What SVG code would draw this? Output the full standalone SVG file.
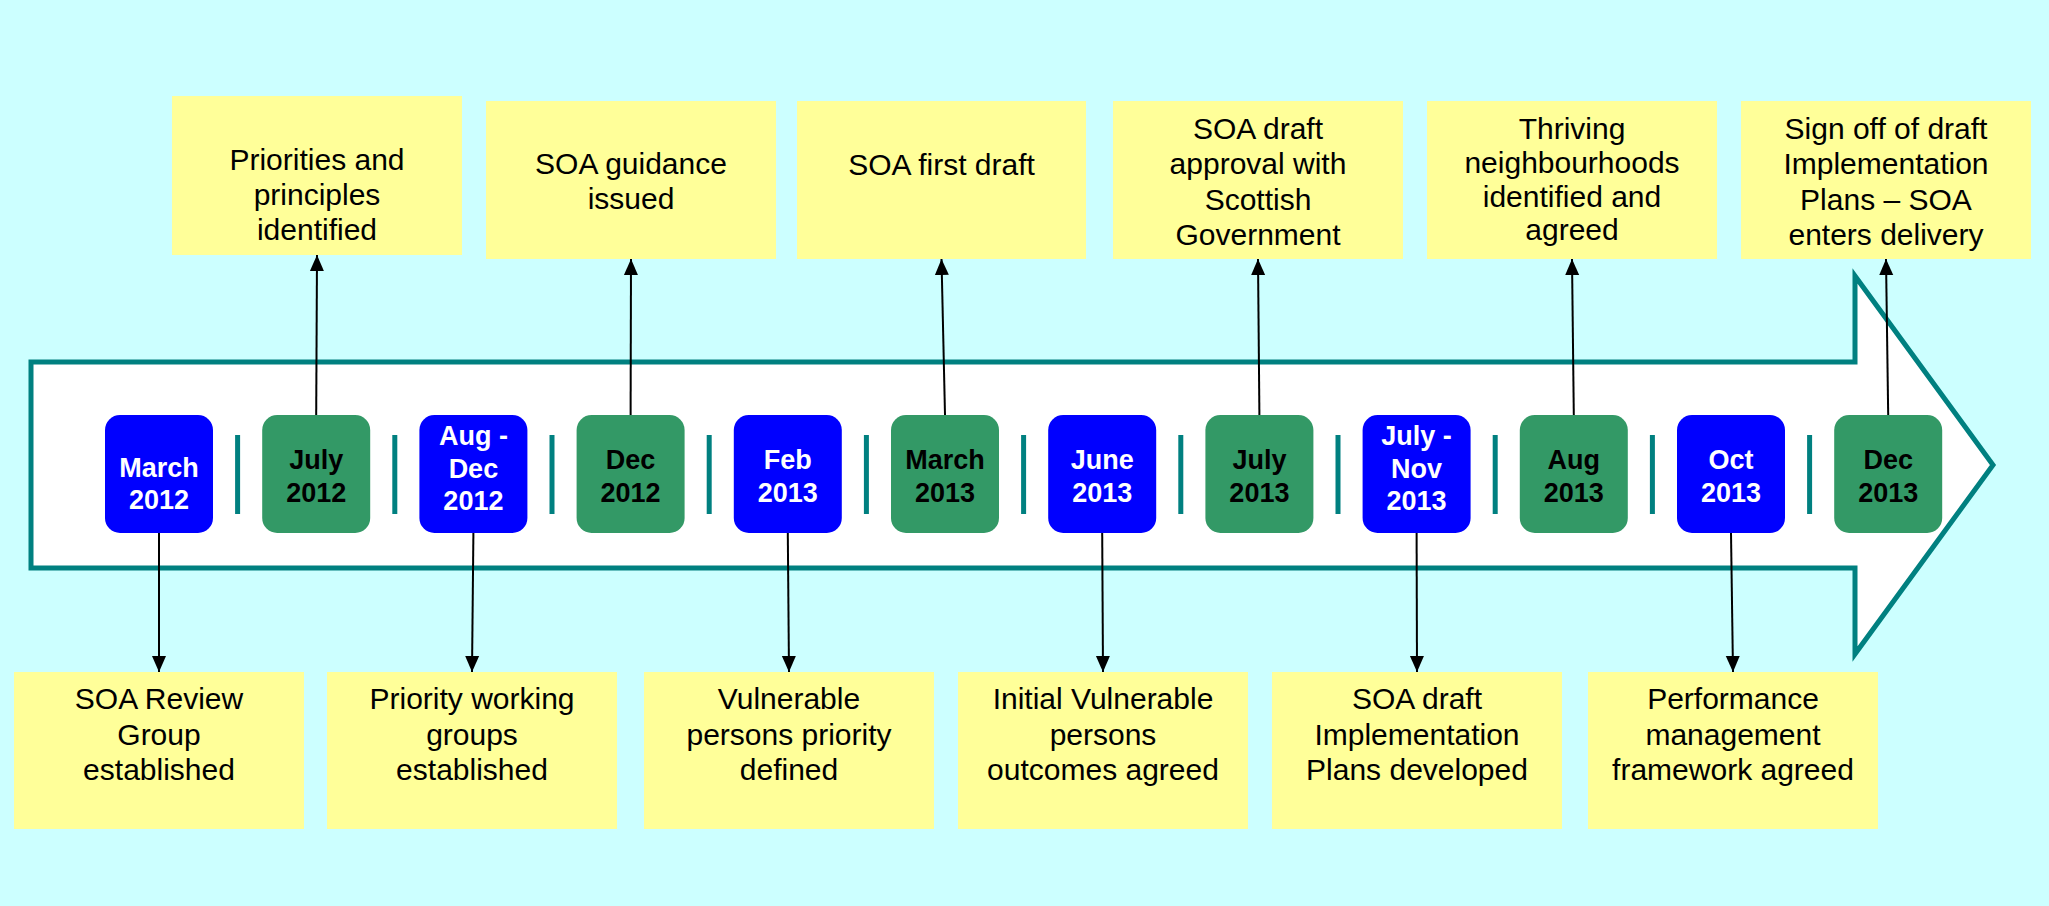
<svg xmlns="http://www.w3.org/2000/svg" width="2049" height="906" viewBox="0 0 2049 906">
<defs>
<style>
.bg{fill:#CCFFFF}
.box{fill:#FFFF99}
.bt{font-family:"Liberation Sans",Arial,sans-serif;font-size:30px;fill:#000;text-anchor:middle}
.nb{fill:#0000FF}
.ng{fill:#339966}
.nt{font-family:"Liberation Sans",Arial,sans-serif;font-size:27px;font-weight:bold;text-anchor:middle}
.wt{fill:#FFFFFF}
.kt{fill:#000000}
.sep{fill:#008080}
.conn line{stroke:#000;stroke-width:2;marker-end:url(#ah)}
</style>
<marker id="ah" markerUnits="userSpaceOnUse" markerWidth="16" markerHeight="16" viewBox="0 0 16 14" refX="16" refY="7" orient="auto">
<path d="M0,0 L16,7 L0,14 Z" fill="#000"/>
</marker>
</defs>
<rect class="bg" x="0" y="0" width="2049" height="906"/>
<g id="timeline-arrow">
<path d="M31,362 H1855 V276 L1993,465 L1855,654 V568 H31 Z" fill="#FFFFFF" stroke="#008080" stroke-width="5" stroke-linejoin="miter"/>
</g>
<g id="separators">
<rect class="sep" x="235.1" y="435" width="5" height="79"/>
<rect class="sep" x="392.3" y="435" width="5" height="79"/>
<rect class="sep" x="549.5" y="435" width="5" height="79"/>
<rect class="sep" x="706.7" y="435" width="5" height="79"/>
<rect class="sep" x="863.9" y="435" width="5" height="79"/>
<rect class="sep" x="1021.1" y="435" width="5" height="79"/>
<rect class="sep" x="1178.3" y="435" width="5" height="79"/>
<rect class="sep" x="1335.5" y="435" width="5" height="79"/>
<rect class="sep" x="1492.7" y="435" width="5" height="79"/>
<rect class="sep" x="1649.9" y="435" width="5" height="79"/>
<rect class="sep" x="1807.1" y="435" width="5" height="79"/>
</g>
<g id="connectors" class="conn">
<line x1="316.2" y1="415" x2="317" y2="255"/>
<line x1="630.6" y1="415" x2="631" y2="259"/>
<line x1="945" y1="415" x2="941.5" y2="259"/>
<line x1="1259.4" y1="415" x2="1258" y2="259"/>
<line x1="1573.8" y1="415" x2="1572" y2="259"/>
<line x1="1888.2" y1="415" x2="1886" y2="259"/>
<line x1="159" y1="533" x2="159" y2="672"/>
<line x1="473.4" y1="533" x2="472" y2="672"/>
<line x1="787.8" y1="533" x2="789" y2="672"/>
<line x1="1102.2" y1="533" x2="1103" y2="672"/>
<line x1="1416.6" y1="533" x2="1417" y2="672"/>
<line x1="1731" y1="533" x2="1733" y2="672"/>
</g>
<g id="node-mar2012"><rect class="nb" x="105" y="415" width="108" height="118" rx="15"/><text class="nt wt" x="159" y="477">March<tspan x="159" y="509">2012</tspan></text></g>
<g id="node-jul2012"><rect class="ng" x="262.2" y="415" width="108" height="118" rx="15"/><text class="nt kt" x="316.2" y="469">July<tspan x="316.2" y="501.5">2012</tspan></text></g>
<g id="node-augdec2012"><rect class="nb" x="419.4" y="415" width="108" height="118" rx="15"/><text class="nt wt" x="473.4" y="445">Aug -<tspan x="473.4" y="477.5">Dec</tspan><tspan x="473.4" y="510">2012</tspan></text></g>
<g id="node-dec2012"><rect class="ng" x="576.6" y="415" width="108" height="118" rx="15"/><text class="nt kt" x="630.6" y="469">Dec<tspan x="630.6" y="501.5">2012</tspan></text></g>
<g id="node-feb2013"><rect class="nb" x="733.8" y="415" width="108" height="118" rx="15"/><text class="nt wt" x="787.8" y="469">Feb<tspan x="787.8" y="501.5">2013</tspan></text></g>
<g id="node-mar2013"><rect class="ng" x="891" y="415" width="108" height="118" rx="15"/><text class="nt kt" x="945" y="469">March<tspan x="945" y="501.5">2013</tspan></text></g>
<g id="node-jun2013"><rect class="nb" x="1048.2" y="415" width="108" height="118" rx="15"/><text class="nt wt" x="1102.2" y="469">June<tspan x="1102.2" y="501.5">2013</tspan></text></g>
<g id="node-jul2013"><rect class="ng" x="1205.4" y="415" width="108" height="118" rx="15"/><text class="nt kt" x="1259.4" y="469">July<tspan x="1259.4" y="501.5">2013</tspan></text></g>
<g id="node-julnov2013"><rect class="nb" x="1362.6" y="415" width="108" height="118" rx="15"/><text class="nt wt" x="1416.6" y="445">July -<tspan x="1416.6" y="477.5">Nov</tspan><tspan x="1416.6" y="510">2013</tspan></text></g>
<g id="node-aug2013"><rect class="ng" x="1519.8" y="415" width="108" height="118" rx="15"/><text class="nt kt" x="1573.8" y="469">Aug<tspan x="1573.8" y="501.5">2013</tspan></text></g>
<g id="node-oct2013"><rect class="nb" x="1677" y="415" width="108" height="118" rx="15"/><text class="nt wt" x="1731" y="469">Oct<tspan x="1731" y="501.5">2013</tspan></text></g>
<g id="node-dec2013"><rect class="ng" x="1834.2" y="415" width="108" height="118" rx="15"/><text class="nt kt" x="1888.2" y="469">Dec<tspan x="1888.2" y="501.5">2013</tspan></text></g>
<g id="top-priorities"><rect class="box" x="172" y="96" width="290" height="159"/><text class="bt" x="317" y="170">Priorities and<tspan x="317" y="205">principles</tspan><tspan x="317" y="240">identified</tspan></text></g>
<g id="top-guidance"><rect class="box" x="486" y="101" width="290" height="158"/><text class="bt" x="631" y="174">SOA guidance<tspan x="631" y="209">issued</tspan></text></g>
<g id="top-firstdraft"><rect class="box" x="797" y="101" width="289" height="158"/><text class="bt" x="941.5" y="175">SOA first draft</text></g>
<g id="top-approval"><rect class="box" x="1113" y="101" width="290" height="158"/><text class="bt" x="1258" y="139">SOA draft<tspan x="1258" y="174">approval with</tspan><tspan x="1258" y="209.5">Scottish</tspan><tspan x="1258" y="245">Government</tspan></text></g>
<g id="top-thriving"><rect class="box" x="1427" y="101" width="290" height="158"/><text class="bt" x="1572" y="139">Thriving<tspan x="1572" y="173">neighbourhoods</tspan><tspan x="1572" y="206.5">identified and</tspan><tspan x="1572" y="240">agreed</tspan></text></g>
<g id="top-signoff"><rect class="box" x="1741" y="101" width="290" height="158"/><text class="bt" x="1886" y="139">Sign off of draft<tspan x="1886" y="174">Implementation</tspan><tspan x="1886" y="209.5">Plans – SOA</tspan><tspan x="1886" y="245">enters delivery</tspan></text></g>
<g id="bot-review"><rect class="box" x="14" y="672" width="290" height="157"/><text class="bt" x="159" y="709">SOA Review<tspan x="159" y="744.5">Group</tspan><tspan x="159" y="780">established</tspan></text></g>
<g id="bot-working"><rect class="box" x="327" y="672" width="290" height="157"/><text class="bt" x="472" y="709">Priority working<tspan x="472" y="744.5">groups</tspan><tspan x="472" y="780">established</tspan></text></g>
<g id="bot-vulnerable"><rect class="box" x="644" y="672" width="290" height="157"/><text class="bt" x="789" y="709">Vulnerable<tspan x="789" y="744.5">persons priority</tspan><tspan x="789" y="780">defined</tspan></text></g>
<g id="bot-outcomes"><rect class="box" x="958" y="672" width="290" height="157"/><text class="bt" x="1103" y="709">Initial Vulnerable<tspan x="1103" y="744.5">persons</tspan><tspan x="1103" y="780">outcomes agreed</tspan></text></g>
<g id="bot-plans"><rect class="box" x="1272" y="672" width="290" height="157"/><text class="bt" x="1417" y="709">SOA draft<tspan x="1417" y="744.5">Implementation</tspan><tspan x="1417" y="780">Plans developed</tspan></text></g>
<g id="bot-performance"><rect class="box" x="1588" y="672" width="290" height="157"/><text class="bt" x="1733" y="709">Performance<tspan x="1733" y="744.5">management</tspan><tspan x="1733" y="780">framework agreed</tspan></text></g>
</svg>
